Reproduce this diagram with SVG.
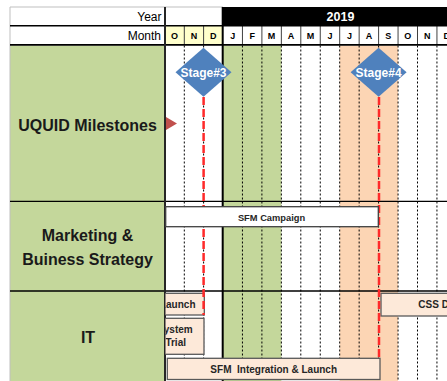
<svg xmlns="http://www.w3.org/2000/svg" width="447" height="381" viewBox="0 0 447 381">
<style>
.lbl{font-family:"Liberation Sans",Arial,sans-serif;font-weight:bold;font-size:16px;fill:#1a1a1a;text-anchor:middle}
.hdr{font-family:"Liberation Sans",Arial,sans-serif;font-size:12px;fill:#000;text-anchor:end}
.mon{font-family:"Liberation Sans",Arial,sans-serif;font-weight:bold;font-size:9px;fill:#000;text-anchor:middle}
.yr{font-family:"Liberation Sans",Arial,sans-serif;font-weight:bold;font-size:12.5px;fill:#fff;text-anchor:middle}
.stg{font-family:"Liberation Sans",Arial,sans-serif;font-weight:bold;font-size:12px;fill:#fff;text-anchor:middle}
.btx{font-family:"Liberation Sans",Arial,sans-serif;font-weight:bold;font-size:10px;fill:#262626}
.dot{stroke:#000;stroke-width:1;stroke-dasharray:2 2;fill:none}
.sep{stroke:#404040;stroke-width:1;fill:none}
.peach{fill:#FDE9D9;stroke:#595959;stroke-width:1.3}
.ms{stroke:#FF2A2A;stroke-width:2.5;stroke-dasharray:8 4;fill:none}
.dia{fill:#4F81BD}
</style>
<defs>
<clipPath id="gridClip"><rect x="165.5" y="0" width="282" height="381"/></clipPath>
</defs>
<rect x="0" y="0" width="447" height="381" fill="#fff"/>
<g id="label-column">
<rect x="10" y="45.5" width="155" height="336" fill="#C4D79B"/>
<line x1="10" y1="7" x2="10" y2="381" stroke="#BFBFBF" stroke-width="1"/>
<line x1="10" y1="7" x2="223" y2="7" stroke="#BFBFBF" stroke-width="1"/>
</g>
<g id="shading">
<rect x="223" y="45.5" width="58.35" height="336" fill="#C4D79B"/>
<rect x="339.7" y="45.5" width="58.35" height="336" fill="#FCD5B4"/>
</g>
<g id="grid">
<line class="dot" x1="184.3" y1="45.5" x2="184.3" y2="381"/>
<line class="dot" x1="203.6" y1="45.5" x2="203.6" y2="381"/>
<line class="dot" x1="242.45" y1="45.5" x2="242.45" y2="381"/>
<line class="dot" x1="261.9" y1="45.5" x2="261.9" y2="381"/>
<line class="dot" x1="281.35" y1="45.5" x2="281.35" y2="381"/>
<line class="dot" x1="300.8" y1="45.5" x2="300.8" y2="381"/>
<line class="dot" x1="320.25" y1="45.5" x2="320.25" y2="381"/>
<line class="dot" x1="339.7" y1="45.5" x2="339.7" y2="381"/>
<line class="dot" x1="359.15" y1="45.5" x2="359.15" y2="381"/>
<line class="dot" x1="378.6" y1="45.5" x2="378.6" y2="381"/>
<line class="dot" x1="398.05" y1="45.5" x2="398.05" y2="381"/>
<line class="dot" x1="417.5" y1="45.5" x2="417.5" y2="381"/>
<line class="dot" x1="436.95" y1="45.5" x2="436.95" y2="381"/>
<line x1="10" y1="201.3" x2="447" y2="201.3" stroke="#000" stroke-width="1.3"/>
<line x1="10" y1="291" x2="447" y2="291" stroke="#000" stroke-width="1.3"/>
</g>
<g id="header">
<rect x="222.7" y="7" width="224.3" height="18.5" fill="#000"/>
<text class="yr" x="340.5" y="20.7">2019</text>
<text class="hdr" x="161.5" y="21.3">Year</text>
<text class="hdr" x="161" y="40">Month</text>
<rect x="165" y="26" width="58" height="18.5" fill="#FFFFCC"/>
<line class="sep" x1="184.3" y1="26" x2="184.3" y2="44.5"/>
<line class="sep" x1="203.6" y1="26" x2="203.6" y2="44.5"/>
<line class="sep" x1="242.45" y1="26" x2="242.45" y2="44.5"/>
<line class="sep" x1="261.9" y1="26" x2="261.9" y2="44.5"/>
<line class="sep" x1="281.35" y1="26" x2="281.35" y2="44.5"/>
<line class="sep" x1="300.8" y1="26" x2="300.8" y2="44.5"/>
<line class="sep" x1="320.25" y1="26" x2="320.25" y2="44.5"/>
<line class="sep" x1="339.7" y1="26" x2="339.7" y2="44.5"/>
<line class="sep" x1="359.15" y1="26" x2="359.15" y2="44.5"/>
<line class="sep" x1="378.6" y1="26" x2="378.6" y2="44.5"/>
<line class="sep" x1="398.05" y1="26" x2="398.05" y2="44.5"/>
<line class="sep" x1="417.5" y1="26" x2="417.5" y2="44.5"/>
<line class="sep" x1="436.95" y1="26" x2="436.95" y2="44.5"/>
<text class="mon" x="174.6" y="39.3">O</text>
<text class="mon" x="194" y="39.3">N</text>
<text class="mon" x="213.3" y="39.3">D</text>
<text class="mon" x="232.7" y="39.3">J</text>
<text class="mon" x="252.2" y="39.3">F</text>
<text class="mon" x="271.6" y="39.3">M</text>
<text class="mon" x="291.1" y="39.3">A</text>
<text class="mon" x="310.5" y="39.3">M</text>
<text class="mon" x="330" y="39.3">J</text>
<text class="mon" x="349.4" y="39.3">J</text>
<text class="mon" x="368.9" y="39.3">A</text>
<text class="mon" x="388.3" y="39.3">S</text>
<text class="mon" x="407.8" y="39.3">O</text>
<text class="mon" x="427.2" y="39.3">N</text>
<text class="mon" x="446.7" y="39.3">D</text>
<line x1="10" y1="25.7" x2="447" y2="25.7" stroke="#000" stroke-width="1.6"/>
<line x1="10" y1="44.9" x2="447" y2="44.9" stroke="#000" stroke-width="1.6"/>
<line x1="165" y1="7" x2="165" y2="381" stroke="#262626" stroke-width="2"/>
<line x1="222.7" y1="7" x2="222.7" y2="381" stroke="#000" stroke-width="2"/>
</g>
<g id="row-milestones">
<text class="lbl" x="87.5" y="131">UQUID Milestones</text>
<polygon points="166,117 177,123.5 166,130" fill="#C0504D"/>
</g>
<g id="row-marketing">
<text class="lbl" x="87.5" y="240.5">Marketing &amp;</text>
<text class="lbl" x="87.5" y="265">Buiness Strategy</text>
</g>
<g id="row-it">
<text class="lbl" x="88" y="343">IT</text>
</g>
<g id="box-launch" clip-path="url(#gridClip)">
<rect class="peach" x="140" y="293.3" width="64.3" height="21.7"/>
<text class="btx" x="195.5" y="307.7" text-anchor="end">Launch</text>
</g>
<g id="box-system-trial" clip-path="url(#gridClip)">
<rect class="peach" x="140" y="318.3" width="64" height="36"/>
<text class="btx" x="192.7" y="333.4" text-anchor="end">System</text>
<text class="btx" x="186" y="345.6" text-anchor="end">Trial</text>
</g>
<g id="box-css">
<rect class="peach" x="381" y="293.3" width="80" height="22.7"/>
<text class="btx" x="418.3" y="307.7">CSS De</text>
</g>
<g id="connectors">
<line class="ms" x1="203.6" y1="97" x2="203.6" y2="315"/>
<line class="ms" x1="379" y1="97" x2="379" y2="358.5"/>
</g>
<g id="stage3">
<polygon class="dia" points="203.5,47.7 231.5,72.2 203.5,96.7 175.5,72.2"/>
<text class="stg" x="203.5" y="76.5">Stage#3</text>
</g>
<g id="stage4">
<polygon class="dia" points="378.6,47.7 406.6,72.2 378.6,96.7 350.6,72.2"/>
<text class="stg" x="378.6" y="76.5">Stage#4</text>
</g>
<g id="box-sfm-campaign">
<rect x="165.7" y="206.7" width="212.6" height="20" fill="#fff" stroke="#404040" stroke-width="1.3"/>
<text class="btx" x="271.5" y="220.5" text-anchor="middle" style="font-size:9.3px">SFM Campaign</text>
</g>
<g id="box-sfm-integration">
<rect class="peach" x="167.3" y="358.3" width="212.7" height="21.2"/>
<text class="btx" x="273.7" y="373.3" text-anchor="middle" xml:space="preserve">SFM  Integration &amp; Launch</text>
</g>
</svg>
